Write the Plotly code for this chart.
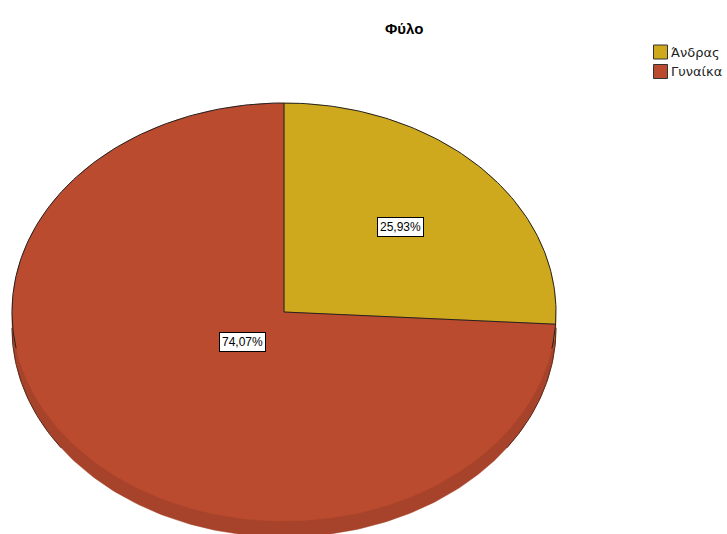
import numpy as np
import plotly.graph_objects as go

# Data
categories = ["Άνδρας", "Γυναίκα"]
percentages = [25.93, 74.07]

# Styling
top_colors = ["#CFA91D", "#BB4B2E"]
side_colors = ["#A8891A", "#A6432A"]
label_radius = [0.59, 0.21]

W, H = 727, 534
CX, CY, RX, RY, DEPTH = 284, 312, 272, 209, 16


def arc(a0, a1, dy=0.0, n=360):
    t = np.linspace(a0, a1, max(int(n * abs(a1 - a0) / (2 * np.pi)), 8))
    return CX + RX * np.sin(t), CY + dy - RY * np.cos(t)


def slice_points(a0, a1, dy=0.0):
    ax, ay = arc(a0, a1, dy)
    return (np.concatenate([[CX], ax, [CX]]),
            np.concatenate([[CY + dy], ay, [CY + dy]]))


total = sum(percentages)
angles = np.concatenate([[0.0], np.cumsum(percentages) / total * 2 * np.pi])

fig = go.Figure()

# extruded side of the tilted pie
for i in range(len(percentages)):
    xs, ys = slice_points(angles[i], angles[i + 1], dy=DEPTH)
    fig.add_trace(go.Scatter(x=xs, y=ys, mode="lines", fill="toself",
                             fillcolor=side_colors[i],
                             line=dict(color=side_colors[i], width=0.5),
                             hoverinfo="skip", showlegend=False))

# top face
for i in range(len(percentages)):
    xs, ys = slice_points(angles[i], angles[i + 1])
    fig.add_trace(go.Scatter(x=xs, y=ys, mode="lines", fill="toself",
                             fillcolor=top_colors[i],
                             line=dict(color=top_colors[i], width=0.5),
                             name=categories[i], hoverinfo="name",
                             showlegend=False))

# outlines: radial edges and the rim of the upper part
edge = dict(color="#222222", width=1)
for a in angles[:-1]:
    fig.add_trace(go.Scatter(x=[CX, CX + RX * np.sin(a)], y=[CY, CY - RY * np.cos(a)],
                             mode="lines", line=edge, hoverinfo="skip", showlegend=False))
rx_, ry_ = arc(-np.deg2rad(100), np.deg2rad(100))
fig.add_trace(go.Scatter(x=rx_, y=ry_, mode="lines", line=edge,
                         hoverinfo="skip", showlegend=False))
for a0, a1 in [(np.deg2rad(90), np.deg2rad(125)), (-np.deg2rad(125), -np.deg2rad(90))]:
    sx, sy = arc(a0, a1, dy=DEPTH)
    fig.add_trace(go.Scatter(x=sx, y=sy, mode="lines",
                             line=dict(color="#5a2a1c", width=1),
                             hoverinfo="skip", showlegend=False))

annotations = []
for i, p in enumerate(percentages):
    mid = (angles[i] + angles[i + 1]) / 2
    r = label_radius[i]
    annotations.append(dict(
        x=CX + r * RX * np.sin(mid), y=CY - r * RY * np.cos(mid),
        text=f"{p:.2f}%".replace(".", ","), showarrow=False,
        font=dict(family="Liberation Sans, Arial", size=12, color="black"),
        bgcolor="white", bordercolor="black", borderwidth=1, borderpad=2,
        xanchor="center", yanchor="middle"))

# title
annotations.append(dict(x=404, y=28, text="<b>Φύλο</b>", showarrow=False,
                        font=dict(family="Liberation Sans, Arial", size=15, color="black"),
                        xanchor="center", yanchor="middle"))

# legend
shapes = []
for i, name in enumerate(categories):
    y0 = 45 + i * 19.5
    shapes.append(dict(type="rect", x0=653.5, x1=667.5, y0=y0, y1=y0 + 14,
                       fillcolor=top_colors[i], line=dict(color="#333333", width=1),
                       layer="above"))
    annotations.append(dict(x=669, y=y0 + 7, text=name, showarrow=False,
                            font=dict(family="DejaVu Sans", size=13, color="#222222"),
                            xanchor="left", yanchor="middle"))

fig.update_layout(
    width=W, height=H, margin=dict(l=0, r=0, t=0, b=0),
    paper_bgcolor="white", plot_bgcolor="white",
    xaxis=dict(range=[0, W], visible=False, fixedrange=True),
    yaxis=dict(range=[H, 0], visible=False, fixedrange=True),
    annotations=annotations, shapes=shapes, showlegend=False,
)

fig.write_html("out.html")
